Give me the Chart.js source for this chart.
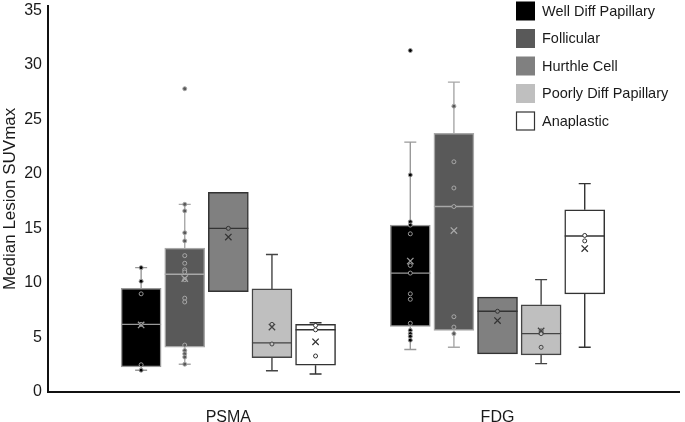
<!DOCTYPE html>
<html>
<head>
<meta charset="utf-8">
<script src="https://cdn.jsdelivr.net/npm/chart.js@4"></script>
<style>
  html, body { margin: 0; padding: 0; background: #fff; }
  #wrap { width: 685px; height: 422px; }
</style>
</head>
<body>
<div id="wrap"><canvas id="boxChart"></canvas></div>
<script>
// Box plot of median lesion SUVmax, PSMA vs FDG
const groups = ['PSMA', 'FDG'];
const types = ['Well Diff Papillary', 'Follicular', 'Hurthle Cell', 'Poorly Diff Papillary', 'Anaplastic'];
const yTicks = [0, 5, 10, 15, 20, 25, 30, 35];

// each row is one type, [PSMA, FDG]
const q1 = [[2.3, 6.0], [4.1, 5.65], [9.2, 3.5], [3.15, 3.4], [2.45, 9.0]];
const median = [[6.2, 10.9], [10.8, 17.0], [15.0, 7.4], [4.5, 5.35], [5.7, 14.3]];
const q3 = [[9.5, 15.3], [13.2, 23.7], [18.3, 8.7], [9.45, 8.0], [6.2, 16.7]];
const whiskerLow = [[2.0, 3.9], [2.55, 4.1], [null, null], [1.95, 2.6], [1.65, 4.1]];
const whiskerHigh = [[11.4, 22.9], [17.2, 28.4], [null, null], [12.6, 10.3], [6.35, 19.1]];
const means = [[6.15, 12.0], [10.4, 14.8], [14.2, 6.55], [5.95, 5.6], [4.6, 13.15]];
const points = [
    [[11.4, 10.15, 9.0, 6.2, 2.5, 2.0],
     [31.3, 19.9, 15.6, 15.3, 14.5, 11.6, 10.9, 9.0, 8.5, 6.3, 5.65, 5.35, 5.1, 4.75]],
    [[27.8, 17.2, 16.6, 14.6, 13.85, 12.5, 11.8, 11.2, 11.0, 10.3, 8.6, 8.25, 4.3, 3.8, 3.5, 3.2, 2.55],
     [26.2, 21.1, 18.7, 17.0, 6.9, 5.95, 5.35]],
    [[15.0], [7.4]],
    [[6.2, 4.4], [5.6, 5.35, 4.1]],
    [[6.1, 5.7, 3.3], [14.35, 13.85]]
];

const fillColors = ['#000000', '#595959', '#808080', '#bfbfbf', '#ffffff'];
const lineColors = ['#999999', '#a8a8a8', '#333333', '#444444', '#333333'];

const FONT = 'Liberation Sans, Arial, Helvetica, sans-serif';
const step = 0.162; // spacing between boxes in a group, in x units
const xPos = (k, j) => j + (k - 2) * step;

const datasets = [];
types.forEach((name, k) => {
    datasets.push({
        type: 'bar',
        label: name,
        boxType: k,
        data: groups.map((g, j) => ({ x: xPos(k, j), y: [q1[k][j], q3[k][j]] })),
        backgroundColor: fillColors[k],
        borderColor: lineColors[k],
        borderWidth: 1.5,
        borderSkipped: false,
        barThickness: 40,
        grouped: false,
        order: 3
    });
    datasets.push({
        type: 'scatter',
        label: name + ' points',
        data: groups.flatMap((g, j) => points[k][j].map(v => ({ x: xPos(k, j), y: v }))),
        pointStyle: 'circle',
        pointRadius: 2,
        backgroundColor: fillColors[k],
        borderColor: lineColors[k],
        borderWidth: 1,
        order: 2
    });
    datasets.push({
        type: 'scatter',
        label: name + ' mean',
        data: groups.map((g, j) => ({ x: xPos(k, j), y: means[k][j] })),
        pointStyle: 'crossRot',
        pointRadius: 4.5,
        borderColor: lineColors[k],
        borderWidth: 1.3,
        order: 1
    });
});

// median line + whiskers drawn right after each box
const whiskers = {
    id: 'whiskers',
    afterDatasetDraw(chart, args) {
        const k = chart.data.datasets[args.index].boxType;
        if (k === undefined) return;
        const ctx = chart.ctx;
        const y = chart.scales.y;
        ctx.save();
        ctx.strokeStyle = lineColors[k];
        ctx.lineWidth = 1.4;
        args.meta.data.forEach((bar, j) => {
            const half = bar.width / 2;
            ctx.beginPath();
            const ym = y.getPixelForValue(median[k][j]);
            ctx.moveTo(bar.x - half, ym);
            ctx.lineTo(bar.x + half, ym);
            if (whiskerHigh[k][j] != null) {
                const top = y.getPixelForValue(whiskerHigh[k][j]);
                ctx.moveTo(bar.x, y.getPixelForValue(q3[k][j]));
                ctx.lineTo(bar.x, top);
                ctx.moveTo(bar.x - 6, top);
                ctx.lineTo(bar.x + 6, top);
            }
            if (whiskerLow[k][j] != null) {
                const bot = y.getPixelForValue(whiskerLow[k][j]);
                ctx.moveTo(bar.x, y.getPixelForValue(q1[k][j]));
                ctx.lineTo(bar.x, bot);
                ctx.moveTo(bar.x - 6, bot);
                ctx.lineTo(bar.x + 6, bot);
            }
            ctx.stroke();
        });
        ctx.restore();
    }
};

// legend in the top right corner
const boxLegend = {
    id: 'boxLegend',
    afterDraw(chart) {
        const ctx = chart.ctx;
        ctx.save();
        ctx.font = '14.5px ' + FONT;
        ctx.textBaseline = 'middle';
        types.forEach((name, k) => {
            const top = 1.5 + k * 27.5;
            ctx.fillStyle = fillColors[k];
            ctx.fillRect(516, top, 19, 19);
            if (k === 4) {
                ctx.strokeStyle = '#333';
                ctx.lineWidth = 1.2;
                ctx.strokeRect(516.5, top + 0.5, 18, 18);
            }
            ctx.fillStyle = '#1a1a1a';
            ctx.fillText(name, 542, top + 10);
        });
        ctx.restore();
    }
};

new Chart(document.getElementById('boxChart'), {
    type: 'bar',
    data: { datasets },
    plugins: [whiskers, boxLegend],
    options: {
        responsive: true,
        maintainAspectRatio: false,
        animation: false,
        layout: { padding: 0 },
        plugins: {
            legend: { display: false },
            tooltip: { enabled: false }
        },
        scales: {
            x: {
                type: 'linear',
                offset: false,
                min: -0.67,
                max: 1.675,
                afterBuildTicks: (scale) => { scale.ticks = groups.map((g, j) => ({ value: j })); },
                afterFit: (scale) => { scale.height = 30; },
                ticks: {
                    callback: (v) => groups[v],
                    font: { family: FONT, size: 16, lineHeight: 1 },
                    color: '#1a1a1a',
                    padding: 10
                },
                grid: { display: false },
                border: { color: '#111', width: 2 }
            },
            y: {
                min: 0,
                max: 35.4,
                afterBuildTicks: (scale) => { scale.ticks = yTicks.map(v => ({ value: v })); },
                afterFit: (scale) => {
                    scale.width = 48;
                    scale.paddingTop = 4;
                    scale.paddingBottom = 0;
                },
                ticks: {
                    font: { family: FONT, size: 16, lineHeight: 1 },
                    color: '#1a1a1a',
                    padding: 6
                },
                grid: { display: false, drawTicks: false },
                border: { color: '#111', width: 2 },
                title: {
                    display: true,
                    text: 'Median Lesion SUVmax',
                    font: { family: FONT, size: 17 },
                    color: '#1a1a1a',
                    padding: { top: 0, bottom: 0 }
                }
            }
        }
    }
});
</script>
</body>
</html>
